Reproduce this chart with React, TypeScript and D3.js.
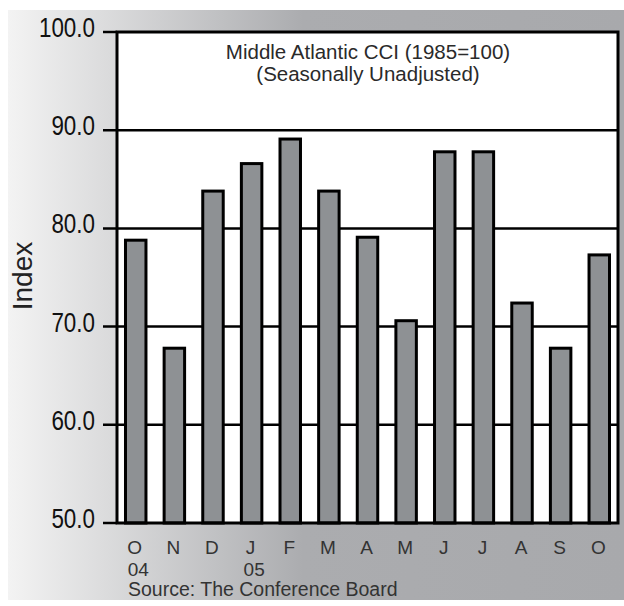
import React from "react";
import * as d3 from "d3";

const months = ["O", "N", "D", "J", "F", "M", "A", "M", "J", "J", "A", "S", "O"];
const years = ["04", "", "", "05", "", "", "", "", "", "", "", "", ""];
const values = [78.8, 67.8, 83.8, 86.6, 89.1, 83.8, 79.1, 70.6, 87.8, 87.8, 72.4, 67.8, 77.3];
const yTicks = [50, 60, 70, 80, 90, 100];

const W = 624;
const H = 606;
const left = 117;
const right = 618;
const top = 32;
const bottom = 523;

export default function App() {
  const x = d3
    .scaleBand<number>()
    .domain(d3.range(values.length))
    .range([left, right])
    .paddingInner(0.47)
    .paddingOuter(0.22);
  const y = d3.scaleLinear().domain([50, 100]).range([bottom, top]);
  const font = "'Liberation Sans', Arial, Helvetica, sans-serif";
  return (
    <svg width={W} height={H} style={{ position: "absolute", left: 0, top: 0 }}>
      <defs>
        <linearGradient id="bg" x1="0" x2="1" y1="0" y2="0">
          <stop offset="0%" stopColor="#f3f3f3" />
          <stop offset="48%" stopColor="#abacaf" />
          <stop offset="100%" stopColor="#a8a9ac" />
        </linearGradient>
      </defs>
      <rect x={8} y={10} width={W - 8} height={590} fill="url(#bg)" />
      <rect x={left} y={top} width={right - left} height={bottom - top} fill="#ffffff" />
      {yTicks.map((t) => (
        <g key={t}>
          <line
            x1={103}
            x2={t === 50 || t === 100 ? left : right}
            y1={y(t)}
            y2={y(t)}
            stroke="#000"
            strokeWidth={2.5}
          />
          <text
            transform={`translate(95,${y(t) + 5}) scale(0.83,1)`}
            textAnchor="end"
            fontFamily={font}
            fontSize={27}
            fill="#111"
          >
            {t.toFixed(1)}
          </text>
        </g>
      ))}
      {values.map((v, i) => (
        <rect
          key={i}
          x={x(i)}
          y={y(v)}
          width={x.bandwidth()}
          height={bottom - y(v)}
          fill="#8e9194"
          stroke="#000"
          strokeWidth={3}
        />
      ))}
      <rect
        x={left}
        y={top}
        width={right - left}
        height={bottom - top}
        fill="none"
        stroke="#000"
        strokeWidth={3}
      />
      <text x={368} y={59} textAnchor="middle" fontFamily={font} fontSize={20.5} fill="#2a2a2a">
        Middle Atlantic CCI (1985=100)
      </text>
      <text x={368} y={81} textAnchor="middle" fontFamily={font} fontSize={20.5} fill="#2a2a2a">
        (Seasonally Unadjusted)
      </text>
      {months.map((m, i) => (
        <text
          key={"m" + i}
          x={(x(i) as number) + x.bandwidth() / 2 - 1}
          y={554}
          textAnchor="middle"
          fontFamily={font}
          fontSize={19}
          fill="#333"
        >
          {m}
        </text>
      ))}
      {years.map((yr, i) =>
        yr ? (
          <text
            key={"y" + i}
            x={(x(i) as number) + x.bandwidth() / 2 - 8}
            y={575.5}
            fontFamily={font}
            fontSize={19}
            fill="#333"
          >
            {yr}
          </text>
        ) : null
      )}
      <text x={128} y={596} fontFamily={font} fontSize={19.5} fill="#333">
        Source: The Conference Board
      </text>
      <text
        transform="translate(32,276) rotate(-90)"
        textAnchor="middle"
        fontFamily={font}
        fontSize={28}
        fill="#222"
      >
        Index
      </text>
    </svg>
  );
}
